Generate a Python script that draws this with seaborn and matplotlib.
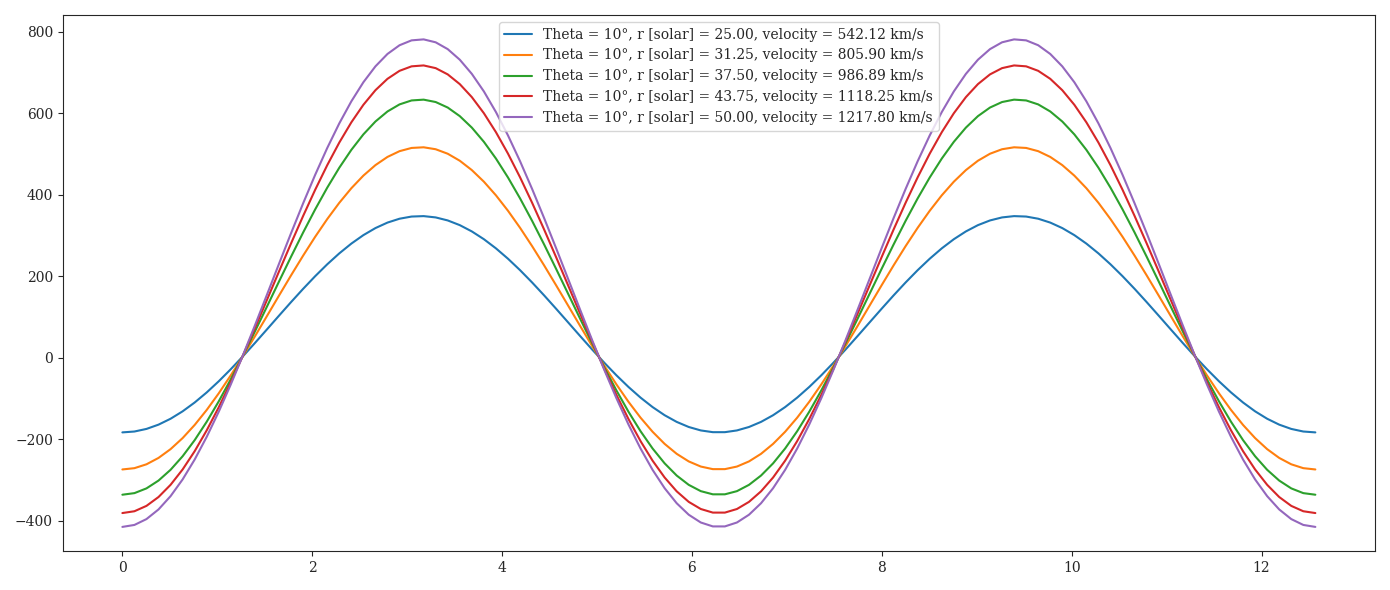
import numpy as np
import pandas as pd
import seaborn as sns
import matplotlib
matplotlib.use("Agg")
import matplotlib.pyplot as plt

labels = [
    "Theta = 10°, r [solar] = 25.00, velocity = 542.12 km/s",
    "Theta = 10°, r [solar] = 31.25, velocity = 805.90 km/s",
    "Theta = 10°, r [solar] = 37.50, velocity = 986.89 km/s",
    "Theta = 10°, r [solar] = 43.75, velocity = 1118.25 km/s",
    "Theta = 10°, r [solar] = 50.00, velocity = 1217.80 km/s",
]
peaks = [348, 517, 634, 718, 782]
troughs = [-183, -274, -336, -381, -415]
colors = ["#1f77b4", "#ff7f0e", "#2ca02c", "#d62728", "#9467bd"]

x = np.linspace(0, 4 * np.pi, 100)
rows = []
for lab, p, t in zip(labels, peaks, troughs):
    m, a = (p + t) / 2, (p - t) / 2
    y = m - a * np.cos(x)
    rows.append(pd.DataFrame({"x": x, "y": y, "series": lab}))
df = pd.concat(rows)

sns.set_style("ticks")
plt.rcParams["font.family"] = ["DejaVu Serif"]
fig, ax = plt.subplots(figsize=(13.9, 5.9), dpi=100)
sns.lineplot(data=df, x="x", y="y", hue="series", palette=colors, ax=ax, sort=False)
ax.set_xlabel("")
ax.set_ylabel("")
ax.legend(loc="upper center", title=None)
fig.tight_layout()
fig.savefig("out.png")
